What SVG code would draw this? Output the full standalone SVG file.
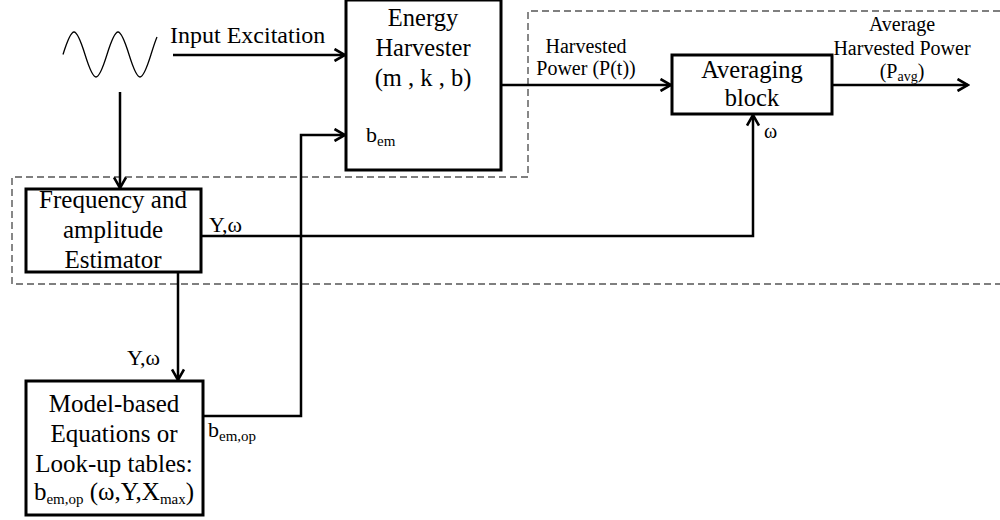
<svg xmlns="http://www.w3.org/2000/svg" width="1000" height="520" viewBox="0 0 1000 520">
<defs>
<marker id="arr" viewBox="0 0 14 14" refX="12" refY="7" markerWidth="14" markerHeight="14" markerUnits="userSpaceOnUse" orient="auto">
<path d="M1.5,1 L12,7 L1.5,13" fill="none" stroke="#000" stroke-width="2.6" stroke-linejoin="miter"/>
</marker>
<style>
.box{fill:#fff;stroke:#000;stroke-width:3}
.ln{fill:none;stroke:#000;stroke-width:2.5}
.dash{fill:none;stroke:#555;stroke-width:1.4;stroke-dasharray:7,4}
</style>
</defs>
<rect width="1000" height="520" fill="#fff"/>
<path class="dash" d="M1000,11 H528 V177 H12 V284 H1000"/>
<g id="source">
<path d="M63,54.5 C66.68,42.7 70.34,32 74,32 S81.32,42.7 85,54.5 S92.34,77 96,77 S103.32,66.3 107,54.5 S114.34,32 118,32 S125.32,42.7 129,54.5 S136.34,77 140,77 S147.32,66.3 151,54.5 C153,48.1 155,41.6 157,37" fill="none" stroke="#000" stroke-width="1.3"/>
<text x="170" y="43" font-family="Liberation Serif, serif" font-size="24">Input Excitation</text>
</g>
<g id="connectors" class="ln" marker-end="url(#arr)">
<path d="M173,55 H345"/>
<path d="M120,92 V188"/>
<path d="M501,85 H671"/>
<path d="M832,85 H968"/>
<path d="M201,236 H753 V115"/>
<path d="M178,272 V380"/>
<path d="M203,416 H301 V135 H345"/>
</g>
<g id="energy-harvester" font-family="Liberation Serif, serif" font-size="24.5" text-anchor="middle">
<rect class="box" x="346" y="0" width="155" height="170"/>
<text x="423" y="26">Energy</text>
<text x="423" y="56">Harvester</text>
<text x="423" y="86">(m , k , b)</text>
<text x="366" y="142" font-size="22" text-anchor="start">b<tspan font-size="15" dy="4">em</tspan></text>
</g>
<g id="harvested-power-label" font-family="Liberation Serif, serif" font-size="20" text-anchor="middle">
<text x="586" y="53">Harvested</text>
<text x="586" y="75">Power (P(t))</text>
</g>
<g id="averaging-block" font-family="Liberation Serif, serif" font-size="24.5" text-anchor="middle">
<rect class="box" x="672" y="55" width="160" height="59"/>
<text x="752" y="78">Averaging</text>
<text x="752" y="106">block</text>
<text x="764" y="138" font-size="20" text-anchor="start">ω</text>
</g>
<g id="output-label" font-family="Liberation Serif, serif" font-size="20" text-anchor="middle">
<text x="902" y="31">Average</text>
<text x="902" y="55">Harvested Power</text>
<text x="902" y="78">(P<tspan font-size="14" dy="3">avg</tspan><tspan dy="-3">)</tspan></text>
</g>
<g id="estimator" font-family="Liberation Serif, serif" font-size="25" text-anchor="middle">
<rect class="box" x="26" y="189" width="175" height="83"/>
<text x="113" y="208">Frequency and</text>
<text x="113" y="238">amplitude</text>
<text x="113" y="268">Estimator</text>
<text x="209" y="232" font-size="22" text-anchor="start">Y,ω</text>
</g>
<g id="model" font-family="Liberation Serif, serif" font-size="25" text-anchor="middle">
<rect class="box" x="26" y="381" width="177" height="134"/>
<text x="114" y="412">Model-based</text>
<text x="114" y="442">Equations or</text>
<text x="114" y="472">Look-up tables:</text>
<text x="114" y="500">b<tspan font-size="15" dy="4">em,op</tspan><tspan dy="-4"> (ω,Y,X</tspan><tspan font-size="15" dy="4">max</tspan><tspan dy="-4">)</tspan></text>
<text x="127" y="365" font-size="22" text-anchor="start">Y,ω</text>
<text x="208" y="437" font-size="22" text-anchor="start">b<tspan font-size="15" dy="4">em,op</tspan></text>
</g>
</svg>
